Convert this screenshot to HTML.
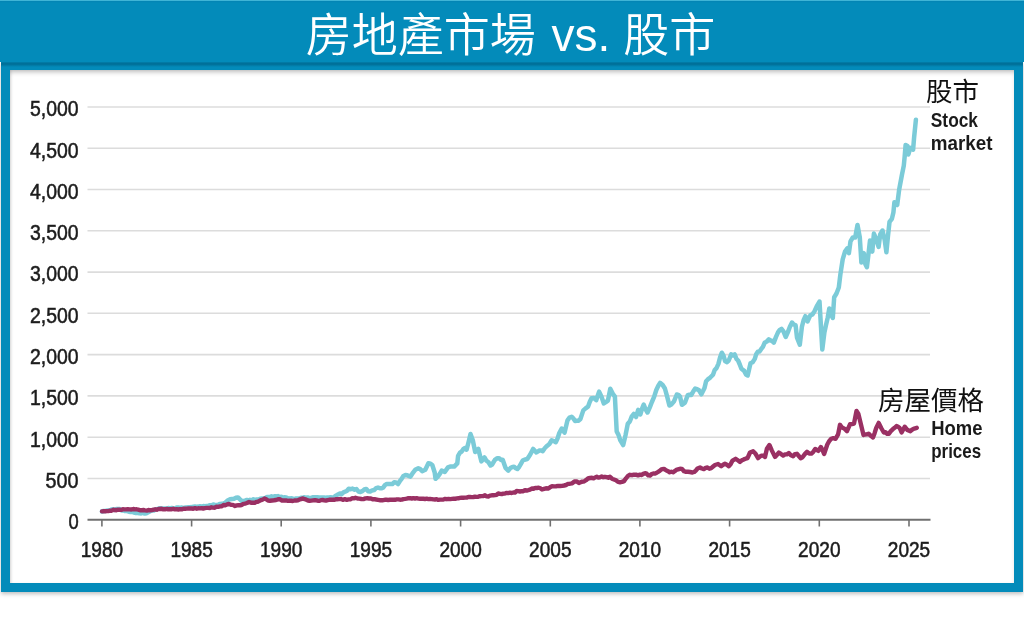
<!DOCTYPE html>
<html><head><meta charset="utf-8"><title>房地產市場 vs. 股市</title>
<style>
html,body{margin:0;padding:0;background:#fff;}
body{width:1024px;height:640px;position:relative;overflow:hidden;filter:blur(0.35px);}
.top{position:absolute;left:0;top:0;width:1024px;height:62px;background:linear-gradient(#0383b3 0,#038bba 2px);border-top:1px solid #3fb4d6;box-sizing:border-box;}
.title{position:absolute;left:0;top:0;width:1024px;height:62px;text-align:left;padding-left:305.8px;box-sizing:border-box;color:#fff;font-family:"Liberation Sans","Noto Sans CJK SC",sans-serif;font-size:46px;font-weight:350;line-height:70px;white-space:nowrap;}
.frame{position:absolute;left:1px;top:62px;width:1022px;height:530px;background:#038bba;box-shadow:0 2px 4px rgba(0,0,0,.25);}
.band{position:absolute;left:1px;top:62px;width:1022px;height:5px;background:linear-gradient(#037fab 0,#006f98 1.6px,#01719a 2.4px,#038bba 5px);}
.inner{position:absolute;left:10px;top:70px;width:1004px;height:513px;background:#fff;box-shadow:inset 0 4px 5px -2px rgba(0,0,0,.26),inset 2px 0 3px -1px rgba(0,0,0,.12);}
.t1{margin-right:3px;}
.chart{position:absolute;left:0;top:0;}
.num{font-family:"Liberation Sans",sans-serif;font-size:22.5px;}
.cjk{font-family:"Liberation Sans","Noto Sans CJK SC",sans-serif;}
.lbl{font-family:"Liberation Sans",sans-serif;font-size:19.8px;font-weight:bold;}
</style></head>
<body>
<div class="frame"></div>
<div class="band"></div>
<div class="inner"></div>
<div class="top"></div>
<div class="title"><span class="t1">房地產市場</span><span class="t2"> vs. </span><span class="t3">股市</span></div>
<svg class="chart" width="1024" height="640" viewBox="0 0 1024 640">
<g><line x1="87.5" x2="930" y1="478.5" y2="478.5" stroke="#dcdcdc" stroke-width="1.6"/><line x1="87.5" x2="930" y1="437.2" y2="437.2" stroke="#dcdcdc" stroke-width="1.6"/><line x1="87.5" x2="930" y1="395.9" y2="395.9" stroke="#dcdcdc" stroke-width="1.6"/><line x1="87.5" x2="930" y1="354.6" y2="354.6" stroke="#dcdcdc" stroke-width="1.6"/><line x1="87.5" x2="930" y1="313.3" y2="313.3" stroke="#dcdcdc" stroke-width="1.6"/><line x1="87.5" x2="930" y1="272.1" y2="272.1" stroke="#dcdcdc" stroke-width="1.6"/><line x1="87.5" x2="930" y1="230.8" y2="230.8" stroke="#dcdcdc" stroke-width="1.6"/><line x1="87.5" x2="930" y1="189.5" y2="189.5" stroke="#dcdcdc" stroke-width="1.6"/><line x1="87.5" x2="930" y1="148.2" y2="148.2" stroke="#dcdcdc" stroke-width="1.6"/><line x1="87.5" x2="930" y1="107.0" y2="107.0" stroke="#dcdcdc" stroke-width="1.6"/></g>
<line x1="87.5" x2="930.5" y1="519.8" y2="519.8" stroke="#707070" stroke-width="2"/>
<g><line x1="101.9" x2="101.9" y1="519" y2="526.5" stroke="#707070" stroke-width="1.6"/><line x1="191.6" x2="191.6" y1="519" y2="526.5" stroke="#707070" stroke-width="1.6"/><line x1="281.2" x2="281.2" y1="519" y2="526.5" stroke="#707070" stroke-width="1.6"/><line x1="370.9" x2="370.9" y1="519" y2="526.5" stroke="#707070" stroke-width="1.6"/><line x1="460.6" x2="460.6" y1="519" y2="526.5" stroke="#707070" stroke-width="1.6"/><line x1="550.3" x2="550.3" y1="519" y2="526.5" stroke="#707070" stroke-width="1.6"/><line x1="639.9" x2="639.9" y1="519" y2="526.5" stroke="#707070" stroke-width="1.6"/><line x1="729.6" x2="729.6" y1="519" y2="526.5" stroke="#707070" stroke-width="1.6"/><line x1="819.3" x2="819.3" y1="519" y2="526.5" stroke="#707070" stroke-width="1.6"/><line x1="909.0" x2="909.0" y1="519" y2="526.5" stroke="#707070" stroke-width="1.6"/></g>
<g class="num" fill="#1c1c1c" stroke="#1c1c1c" stroke-width="0.55"><text x="78.6" y="529.0" text-anchor="end" textLength="10.2" lengthAdjust="spacingAndGlyphs">0</text><text x="78.6" y="487.8" text-anchor="end" textLength="33" lengthAdjust="spacingAndGlyphs">500</text><text x="78.6" y="446.5" text-anchor="end" textLength="48.6" lengthAdjust="spacingAndGlyphs">1,000</text><text x="78.6" y="405.2" text-anchor="end" textLength="48.6" lengthAdjust="spacingAndGlyphs">1,500</text><text x="78.6" y="363.9" text-anchor="end" textLength="48.6" lengthAdjust="spacingAndGlyphs">2,000</text><text x="78.6" y="322.6" text-anchor="end" textLength="48.6" lengthAdjust="spacingAndGlyphs">2,500</text><text x="78.6" y="281.4" text-anchor="end" textLength="48.6" lengthAdjust="spacingAndGlyphs">3,000</text><text x="78.6" y="240.1" text-anchor="end" textLength="48.6" lengthAdjust="spacingAndGlyphs">3,500</text><text x="78.6" y="198.8" text-anchor="end" textLength="48.6" lengthAdjust="spacingAndGlyphs">4,000</text><text x="78.6" y="157.5" text-anchor="end" textLength="48.6" lengthAdjust="spacingAndGlyphs">4,500</text><text x="78.6" y="116.3" text-anchor="end" textLength="48.6" lengthAdjust="spacingAndGlyphs">5,000</text><text x="101.9" y="556.6" text-anchor="middle" textLength="42.4" lengthAdjust="spacingAndGlyphs">1980</text><text x="191.6" y="556.6" text-anchor="middle" textLength="42.4" lengthAdjust="spacingAndGlyphs">1985</text><text x="281.2" y="556.6" text-anchor="middle" textLength="42.4" lengthAdjust="spacingAndGlyphs">1990</text><text x="370.9" y="556.6" text-anchor="middle" textLength="42.4" lengthAdjust="spacingAndGlyphs">1995</text><text x="460.6" y="556.6" text-anchor="middle" textLength="42.4" lengthAdjust="spacingAndGlyphs">2000</text><text x="550.3" y="556.6" text-anchor="middle" textLength="42.4" lengthAdjust="spacingAndGlyphs">2005</text><text x="639.9" y="556.6" text-anchor="middle" textLength="42.4" lengthAdjust="spacingAndGlyphs">2010</text><text x="729.6" y="556.6" text-anchor="middle" textLength="42.4" lengthAdjust="spacingAndGlyphs">2015</text><text x="819.3" y="556.6" text-anchor="middle" textLength="42.4" lengthAdjust="spacingAndGlyphs">2020</text><text x="909.0" y="556.6" text-anchor="middle" textLength="42.4" lengthAdjust="spacingAndGlyphs">2025</text></g>
<path d="M102.0,511.5 L103.6,511.0 L105.2,511.0 L106.8,510.6 L108.4,510.6 L110.0,510.4 L111.6,509.5 L113.2,509.2 L114.8,509.9 L116.4,509.0 L118.0,509.0 L119.8,509.1 L121.6,510.4 L123.4,510.3 L125.2,511.1 L127.0,511.1 L128.8,511.7 L130.6,512.0 L132.4,511.8 L134.1,512.6 L135.9,513.0 L137.6,512.8 L139.4,513.3 L141.2,513.4 L142.9,512.9 L144.7,513.6 L146.5,513.2 L148.3,512.3 L150.1,511.3 L152.0,510.3 L153.8,510.5 L155.6,509.4 L157.8,508.8 L160.0,508.2 L161.7,508.4 L163.3,508.6 L165.0,508.4 L166.7,508.6 L168.3,508.0 L170.0,508.4 L171.7,508.0 L173.3,508.5 L175.0,508.4 L176.7,507.5 L178.3,507.5 L180.0,507.9 L181.7,507.5 L183.3,508.2 L185.0,507.5 L186.7,507.6 L188.3,507.2 L190.0,507.3 L191.7,507.1 L193.3,506.8 L195.0,506.6 L196.7,506.7 L198.3,506.6 L200.0,506.3 L201.7,506.6 L203.3,506.1 L205.0,506.2 L206.7,506.0 L208.3,505.9 L210.0,505.2 L211.7,505.2 L213.3,504.4 L215.0,505.0 L216.7,504.9 L218.3,504.6 L220.0,503.9 L221.7,503.7 L223.3,503.5 L225.0,503.0 L228.0,500.2 L230.0,499.3 L232.0,499.0 L234.0,498.8 L236.0,497.8 L238.0,497.4 L240.0,499.4 L242.0,501.3 L243.6,501.1 L245.2,500.5 L246.8,499.9 L248.4,500.5 L250.0,499.8 L251.7,500.3 L253.4,499.2 L255.2,500.0 L256.9,499.5 L258.6,499.5 L260.2,498.7 L261.9,498.5 L263.5,498.6 L265.1,498.3 L266.8,497.0 L268.4,497.1 L270.0,497.1 L271.6,496.3 L273.2,496.8 L274.9,496.2 L276.5,496.7 L278.1,496.1 L279.7,497.0 L281.4,496.8 L283.0,497.7 L284.6,497.3 L286.3,497.4 L287.9,498.2 L289.8,498.6 L291.8,498.3 L293.8,499.2 L295.6,498.6 L297.4,498.5 L299.2,498.5 L301.0,497.7 L302.8,497.8 L304.4,497.2 L306.1,498.1 L307.7,497.4 L309.3,498.0 L311.0,497.9 L312.6,497.3 L314.2,497.3 L315.9,497.3 L317.5,497.2 L319.1,497.4 L320.7,497.4 L322.4,497.4 L324.0,497.5 L325.6,497.9 L327.2,497.5 L328.9,497.4 L330.6,497.2 L332.4,497.4 L334.1,497.1 L336.0,495.6 L338.0,494.4 L339.9,493.4 L341.6,494.1 L343.4,492.3 L345.1,491.7 L346.8,491.0 L348.7,488.8 L350.7,489.2 L352.6,488.6 L354.6,489.7 L356.5,489.0 L358.4,491.5 L360.4,492.0 L362.4,491.1 L364.3,489.5 L366.3,488.9 L368.2,491.2 L370.2,491.5 L372.1,490.4 L374.1,490.1 L376.1,488.2 L378.0,487.6 L379.7,488.2 L381.4,488.3 L383.1,487.7 L384.9,485.1 L386.8,483.9 L388.6,483.9 L390.4,483.9 L392.3,484.1 L394.1,482.3 L396.1,482.5 L398.0,484.0 L399.8,481.2 L401.6,478.9 L403.4,476.0 L405.4,475.1 L407.3,475.3 L410.5,476.6 L412.9,472.8 L415.2,469.8 L418.3,468.2 L420.2,469.1 L422.2,471.1 L425.3,469.7 L428.4,463.2 L430.4,463.7 L432.3,465.0 L434.7,472.5 L435.5,478.8 L437.8,476.6 L439.8,473.9 L441.7,470.6 L444.8,471.9 L448.0,467.4 L450.1,466.6 L452.1,466.5 L454.2,466.6 L457.3,463.4 L458.1,455.8 L460.0,452.6 L461.7,451.5 L463.4,448.9 L465.0,448.0 L466.6,449.7 L468.6,442.0 L470.5,434.0 L472.8,440.3 L475.2,452.0 L478.3,448.9 L481.4,461.4 L484.5,457.5 L486.5,460.8 L488.5,462.3 L490.5,465.5 L492.1,464.5 L494.9,459.8 L497.0,458.3 L499.1,458.3 L500.9,459.9 L502.7,459.8 L505.5,467.8 L508.3,470.6 L510.4,468.1 L512.5,467.0 L514.1,466.8 L515.8,468.2 L517.4,469.0 L519.1,467.0 L520.9,463.8 L522.7,460.6 L524.5,459.7 L527.3,459.0 L530.1,454.8 L533.2,448.9 L536.4,452.5 L539.2,450.6 L541.0,450.4 L542.7,451.1 L544.9,448.0 L547.0,445.9 L549.4,444.0 L551.7,440.3 L553.8,441.1 L555.8,442.2 L557.5,438.6 L559.3,433.0 L561.7,428.6 L564.6,432.6 L567.5,420.3 L569.5,417.6 L571.6,416.8 L573.4,418.4 L575.1,421.0 L576.9,420.8 L578.6,420.7 L580.4,419.0 L583.3,410.4 L585.6,408.4 L588.0,406.7 L589.8,401.7 L591.5,398.2 L593.9,398.1 L596.2,400.2 L599.1,391.6 L601.5,396.7 L603.8,403.4 L605.8,402.1 L607.9,400.6 L610.3,388.7 L613.2,394.4 L614.9,396.7 L616.7,431.5 L618.5,434.9 L620.2,440.0 L623.2,445.1 L625.5,435.3 L627.8,423.8 L629.8,421.5 L631.8,416.4 L633.8,414.0 L636.0,417.0 L638.2,409.8 L640.4,414.5 L642.0,408.9 L643.7,404.5 L645.6,409.4 L647.5,412.5 L649.7,407.6 L651.9,402.0 L654.1,396.9 L656.3,390.0 L658.2,386.0 L660.1,382.9 L662.5,384.7 L664.9,388.5 L667.1,396.4 L669.4,405.5 L671.7,404.2 L674.0,401.3 L676.8,394.5 L678.4,394.9 L680.0,396.6 L681.9,404.8 L685.0,402.6 L687.7,395.2 L689.5,394.7 L691.2,395.0 L693.2,391.6 L695.2,388.6 L697.1,389.2 L699.0,390.3 L701.4,394.3 L704.5,388.0 L706.1,381.2 L708.0,379.2 L710.0,377.8 L713.0,374.7 L714.7,370.0 L716.5,368.1 L718.4,363.9 L720.1,357.3 L721.8,352.7 L723.5,355.6 L725.2,361.3 L727.0,362.1 L728.7,360.5 L731.2,354.4 L733.0,355.5 L734.7,354.4 L736.4,358.8 L738.1,360.5 L739.8,364.5 L741.4,368.8 L744.2,370.9 L746.0,374.5 L747.7,375.5 L750.5,363.3 L752.6,362.3 L754.8,358.9 L756.2,354.2 L757.8,351.8 L759.5,351.6 L761.1,349.2 L762.9,346.9 L764.6,342.8 L766.7,341.6 L768.8,339.4 L770.5,340.5 L772.1,340.9 L773.8,342.6 L775.9,337.1 L778.0,332.4 L779.8,329.9 L781.5,328.9 L783.6,331.7 L785.7,337.0 L787.8,332.4 L789.9,326.7 L792.0,322.5 L793.8,324.7 L795.6,325.2 L797.0,337.6 L799.8,344.7 L801.9,326.8 L803.6,320.2 L805.4,316.2 L807.5,321.5 L810.3,315.4 L812.4,314.4 L814.5,311.2 L816.7,306.4 L819.5,301.5 L822.3,349.5 L824.4,332.4 L826.0,325.0 L827.7,317.7 L829.3,308.5 L831.0,314.4 L832.8,318.0 L834.2,297.2 L836.5,293.5 L838.8,287.5 L840.3,275.0 L842.7,259.4 L845.0,251.6 L847.3,248.4 L848.9,253.1 L850.5,241.4 L852.8,237.5 L855.2,237.5 L857.5,225.0 L859.8,237.5 L861.4,262.5 L863.8,253.1 L865.3,264.0 L866.9,267.2 L868.4,254.7 L870.0,240.6 L872.3,251.6 L873.9,233.6 L876.2,239.0 L878.6,246.9 L880.2,234.4 L882.5,230.5 L884.8,240.6 L886.4,252.3 L888.0,235.9 L889.5,221.9 L891.9,218.8 L893.4,212.5 L894.4,202.2 L897.2,205.0 L899.1,190.0 L901.9,175.0 L903.8,165.6 L904.7,156.2 L905.6,145.0 L907.5,146.0 L908.4,154.4 L910.3,147.8 L913.1,149.7 L914.1,137.5 L915.9,119.7" fill="none" stroke="#7bcbd8" stroke-width="4.5" stroke-linejoin="round" stroke-linecap="round"/>
<path d="M102.0,511.4 L103.6,511.3 L105.2,511.3 L106.8,511.1 L108.4,511.1 L110.0,510.7 L111.6,510.7 L113.2,509.8 L114.8,510.0 L116.4,510.2 L118.0,509.7 L119.6,509.8 L121.2,509.9 L122.8,509.2 L124.4,509.4 L126.0,509.4 L127.8,509.2 L129.6,509.4 L131.4,509.5 L133.2,509.0 L135.0,509.4 L136.7,509.3 L138.3,509.6 L140.0,510.2 L141.7,510.3 L143.3,510.0 L145.0,510.4 L146.8,510.6 L148.5,510.0 L150.2,510.3 L152.0,510.1 L153.6,509.6 L155.2,509.3 L156.8,509.7 L158.4,509.0 L160.0,509.0 L161.7,508.8 L163.3,509.4 L165.0,509.3 L166.7,508.9 L168.3,509.4 L170.0,509.1 L171.7,509.2 L173.3,508.8 L175.0,509.4 L176.7,509.2 L178.3,509.5 L180.0,509.1 L181.7,509.4 L183.3,508.8 L185.0,508.8 L186.7,508.6 L188.3,508.5 L190.0,508.4 L191.7,508.5 L193.3,508.7 L195.0,508.2 L196.7,508.7 L198.3,508.3 L200.0,508.4 L201.6,508.1 L203.2,508.5 L204.9,508.1 L206.5,507.9 L208.1,507.9 L209.8,508.0 L211.4,507.3 L213.0,507.6 L214.8,507.7 L216.5,506.6 L218.2,506.9 L220.0,506.4 L221.8,506.2 L223.5,505.0 L225.2,505.2 L227.0,504.4 L228.8,504.0 L230.8,504.7 L232.9,504.9 L235.0,506.0 L236.7,505.4 L238.3,505.2 L240.0,505.2 L241.7,505.0 L243.3,503.9 L245.0,503.6 L247.0,503.0 L249.0,502.0 L251.0,502.7 L253.0,502.8 L254.7,502.8 L256.3,501.9 L258.0,501.7 L259.6,500.8 L261.2,500.1 L262.9,499.5 L264.5,498.5 L266.2,499.2 L268.0,500.5 L270.0,500.7 L272.0,500.5 L274.0,500.3 L276.0,500.0 L278.0,499.3 L280.0,499.3 L282.0,500.5 L284.0,500.5 L286.0,500.4 L288.0,500.9 L289.6,500.7 L291.2,500.8 L292.8,501.0 L294.4,500.5 L296.0,500.5 L298.0,500.2 L300.0,499.3 L303.0,498.5 L304.7,499.2 L306.3,499.7 L308.0,500.5 L309.6,500.8 L311.2,500.6 L312.9,500.4 L314.5,500.3 L316.1,500.3 L317.8,500.7 L319.4,500.9 L321.0,500.1 L322.7,500.0 L324.3,500.3 L325.9,500.6 L327.5,500.1 L329.2,499.8 L330.8,499.6 L332.4,499.7 L334.0,499.8 L335.7,499.3 L337.3,499.2 L338.9,499.1 L340.9,498.9 L342.9,499.8 L344.8,499.2 L346.8,499.8 L348.5,499.4 L350.3,499.3 L352.0,498.3 L353.8,498.4 L355.5,497.8 L357.5,498.5 L359.4,498.6 L361.4,499.0 L363.4,499.1 L365.4,498.4 L367.3,498.3 L369.1,498.5 L370.9,498.5 L372.6,499.3 L374.4,499.1 L376.2,499.5 L378.0,499.8 L379.7,500.2 L381.4,500.1 L383.1,500.2 L384.8,499.8 L386.5,499.8 L388.2,500.0 L389.9,499.8 L391.6,499.6 L393.3,499.7 L395.0,499.8 L396.7,499.4 L398.3,499.4 L400.0,499.7 L401.7,499.6 L403.4,499.1 L405.0,498.9 L406.7,498.6 L408.4,498.2 L410.1,498.2 L411.7,498.5 L413.4,498.1 L415.1,498.5 L416.7,498.2 L418.4,498.6 L420.0,498.7 L421.7,498.7 L423.4,498.8 L425.0,499.0 L426.7,498.7 L428.4,499.1 L430.0,498.9 L431.7,499.1 L433.4,499.4 L435.0,499.5 L436.7,499.2 L438.3,499.9 L440.0,499.6 L441.7,499.6 L443.4,499.5 L445.1,498.9 L446.9,499.2 L448.6,498.9 L450.3,499.1 L452.0,498.9 L453.6,498.7 L455.2,498.8 L456.8,498.4 L458.4,498.3 L460.0,497.9 L461.7,497.6 L463.3,497.7 L465.0,497.6 L466.7,497.6 L468.3,497.0 L470.0,497.0 L471.7,497.1 L473.3,497.0 L475.0,496.8 L476.7,496.9 L478.3,496.7 L480.0,496.2 L481.7,496.1 L483.3,496.1 L485.0,495.3 L486.7,496.4 L488.3,496.5 L490.0,495.6 L491.7,495.3 L493.3,495.3 L495.0,495.1 L496.7,494.8 L498.3,493.5 L500.0,493.8 L501.7,494.1 L503.3,493.6 L505.0,493.5 L506.7,492.9 L508.3,493.1 L510.0,492.7 L511.7,493.0 L513.3,492.5 L515.0,492.5 L516.7,491.0 L518.3,491.1 L520.0,491.5 L521.7,491.1 L523.3,491.2 L525.0,490.1 L526.7,490.6 L528.3,490.2 L530.0,489.7 L531.8,488.5 L533.5,488.8 L535.2,487.9 L537.0,488.0 L538.7,487.7 L540.3,488.3 L542.0,489.5 L544.0,488.9 L546.0,488.3 L548.0,488.6 L550.0,487.3 L552.0,486.3 L554.0,486.4 L556.1,486.2 L558.2,485.9 L560.3,486.0 L562.2,485.9 L564.1,485.5 L566.0,485.0 L568.0,483.9 L570.0,483.7 L572.2,483.3 L574.4,481.5 L576.6,481.4 L578.9,483.0 L580.6,482.3 L582.3,481.6 L584.0,481.5 L586.0,480.2 L588.0,478.5 L590.0,478.0 L592.0,477.8 L593.6,478.3 L595.2,477.4 L596.8,476.7 L598.4,477.6 L600.0,477.3 L601.7,476.5 L603.3,477.2 L605.0,476.8 L606.7,477.1 L608.3,477.7 L610.0,476.8 L612.0,478.7 L614.0,479.5 L616.0,480.3 L618.0,481.9 L620.0,482.2 L622.0,481.9 L624.0,481.1 L626.0,478.3 L628.0,475.9 L630.0,474.8 L632.0,475.2 L634.0,474.6 L636.0,474.7 L638.0,475.4 L640.0,474.6 L641.7,475.0 L643.3,473.9 L645.0,473.2 L646.7,473.7 L648.3,475.4 L650.0,475.5 L651.7,474.0 L653.3,473.5 L655.0,473.6 L656.7,472.7 L658.3,471.8 L660.0,470.6 L662.0,469.1 L664.0,468.9 L666.0,470.3 L668.0,471.2 L669.7,472.3 L671.3,471.7 L673.0,472.3 L674.7,471.2 L676.3,469.9 L678.0,469.4 L680.0,468.8 L682.0,468.9 L684.0,471.2 L686.0,471.8 L688.0,471.7 L690.0,472.0 L692.5,472.5 L694.2,472.0 L695.8,470.6 L697.5,468.5 L700.0,467.5 L701.9,468.5 L703.8,469.1 L705.6,467.9 L707.5,467.5 L709.4,468.7 L711.2,468.1 L713.1,466.5 L715.0,465.0 L718.1,464.0 L721.2,466.2 L723.1,464.8 L725.0,463.8 L726.9,464.7 L728.8,466.2 L730.6,464.3 L732.5,460.6 L735.6,458.8 L737.8,460.3 L740.0,461.9 L741.9,460.3 L743.8,459.4 L745.6,458.7 L747.5,458.1 L750.0,452.5 L753.1,451.2 L755.6,453.8 L758.1,458.1 L761.2,455.6 L763.1,455.6 L765.0,456.9 L766.9,448.8 L769.4,445.0 L771.9,450.6 L775.0,456.9 L776.9,454.9 L778.8,452.5 L780.9,453.9 L783.1,455.6 L785.0,454.4 L786.9,454.4 L788.8,453.1 L790.9,455.3 L793.1,456.2 L795.0,454.1 L796.9,453.8 L798.8,456.0 L800.6,458.2 L802.5,457.2 L804.8,454.1 L807.0,451.9 L809.2,453.5 L811.4,453.6 L813.3,451.8 L815.2,449.0 L818.4,450.9 L820.9,447.0 L822.5,450.0 L824.1,454.0 L827.3,444.5 L829.2,441.2 L831.1,438.8 L833.3,438.2 L835.5,438.8 L838.1,434.4 L840.0,424.8 L841.6,427.3 L843.2,428.0 L845.1,429.2 L847.0,431.2 L850.1,424.2 L852.0,424.1 L854.0,423.6 L856.5,410.9 L858.4,414.0 L860.9,424.2 L863.5,435.0 L865.2,434.5 L866.9,434.4 L868.6,433.7 L870.8,435.8 L873.0,437.5 L874.6,433.2 L876.2,428.0 L878.7,422.9 L881.2,428.0 L883.8,432.5 L885.5,432.2 L887.2,433.8 L888.9,433.7 L890.8,431.1 L892.7,429.3 L894.6,427.8 L896.5,426.1 L898.1,426.8 L899.7,428.0 L901.6,432.5 L904.7,426.7 L907.3,429.9 L910.4,431.2 L912.3,429.5 L914.3,428.6 L916.8,427.8" fill="none" stroke="#9a3063" stroke-width="4.4" stroke-linejoin="round" stroke-linecap="round"/>
<g class="cjk" fill="#111">
<text x="926" y="100.5" font-size="26.5">股市</text>
<text x="878" y="409.5" font-size="26.5">房屋價格</text>
</g>
<g class="lbl" fill="#1a1a1a">
<text x="930.8" y="126.6" textLength="47.2" lengthAdjust="spacingAndGlyphs">Stock</text>
<text x="930.8" y="149.7" textLength="61.7" lengthAdjust="spacingAndGlyphs">market</text>
<text x="931.2" y="435.1" textLength="51.2" lengthAdjust="spacingAndGlyphs">Home</text>
<text x="931.2" y="457.5" textLength="50" lengthAdjust="spacingAndGlyphs">prices</text>
</g>
</svg>
</body></html>
